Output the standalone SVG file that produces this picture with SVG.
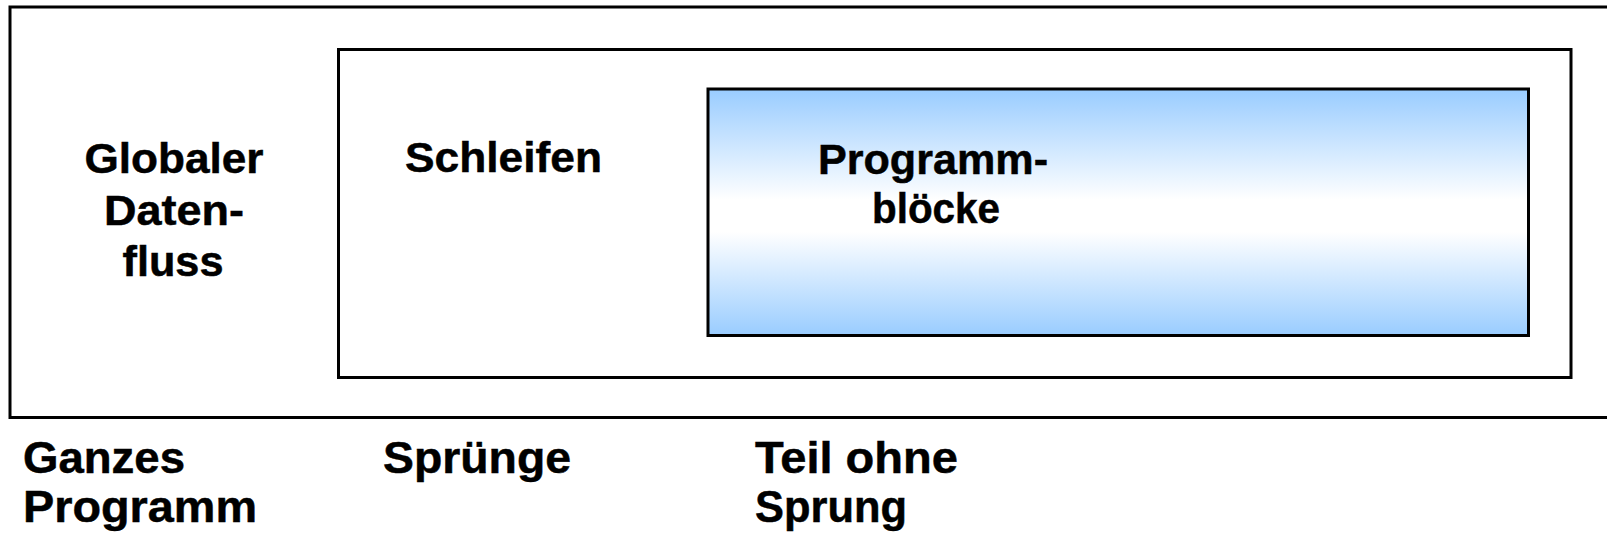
<svg xmlns="http://www.w3.org/2000/svg" width="1607" height="540" viewBox="0 0 1607 540">
  <style>
    .frame { stroke: #000; stroke-width: 3; }
    .plain { fill: #fff; }
    .shaded { fill: url(#blockFill); }
    .lbl { font-family: "Liberation Sans", Arial, sans-serif; font-weight: bold; fill: #000; stroke: #000; stroke-width: 0.5; }
    .in { font-size: 43px; }
    .out { font-size: 45px; }
  </style>
  <defs>
    <linearGradient id="blockFill" x1="0" y1="0" x2="0" y2="1">
      <stop offset="0" stop-color="#99ccff"/>
      <stop offset="0.45" stop-color="#ffffff"/>
      <stop offset="0.58" stop-color="#ffffff"/>
      <stop offset="1" stop-color="#99ccff"/>
    </linearGradient>
  </defs>
  <rect width="1607" height="540" fill="#fff"/>

  <!-- whole program: global data flow -->
  <g id="global">
    <rect class="frame plain" x="10" y="7" width="1620" height="410.5"/>
    <text class="lbl in" text-anchor="middle" x="174" y="173" textLength="179" lengthAdjust="spacingAndGlyphs">Globaler</text>
    <text class="lbl in" text-anchor="middle" x="174" y="224.5" textLength="140" lengthAdjust="spacingAndGlyphs">Daten-</text>
    <text class="lbl in" text-anchor="middle" x="173" y="276" textLength="101" lengthAdjust="spacingAndGlyphs">fluss</text>
  </g>

  <!-- jumps: loops -->
  <g id="loops">
    <rect class="frame plain" x="338.5" y="49.5" width="1232.5" height="328"/>
    <text class="lbl in" x="405" y="172" textLength="197" lengthAdjust="spacingAndGlyphs">Schleifen</text>
  </g>

  <!-- part without jump: program blocks -->
  <g id="blocks">
    <rect class="frame shaded" x="708" y="89" width="820.5" height="246.5"/>
    <text class="lbl in" text-anchor="middle" x="933" y="174" textLength="230" lengthAdjust="spacingAndGlyphs">Programm-</text>
    <text class="lbl in" text-anchor="middle" x="936" y="223" textLength="128" lengthAdjust="spacingAndGlyphs">blöcke</text>
  </g>

  <!-- scope captions below the frames -->
  <g id="captions">
    <text class="lbl out" x="23" y="472.5" textLength="162" lengthAdjust="spacingAndGlyphs">Ganzes</text>
    <text class="lbl out" x="23" y="521.5" textLength="234" lengthAdjust="spacingAndGlyphs">Programm</text>
    <text class="lbl out" x="383" y="472.5" textLength="188" lengthAdjust="spacingAndGlyphs">Sprünge</text>
    <text class="lbl out" x="755" y="472.5" textLength="203" lengthAdjust="spacingAndGlyphs">Teil ohne</text>
    <text class="lbl out" x="755" y="521.5" textLength="152" lengthAdjust="spacingAndGlyphs">Sprung</text>
  </g>
</svg>
